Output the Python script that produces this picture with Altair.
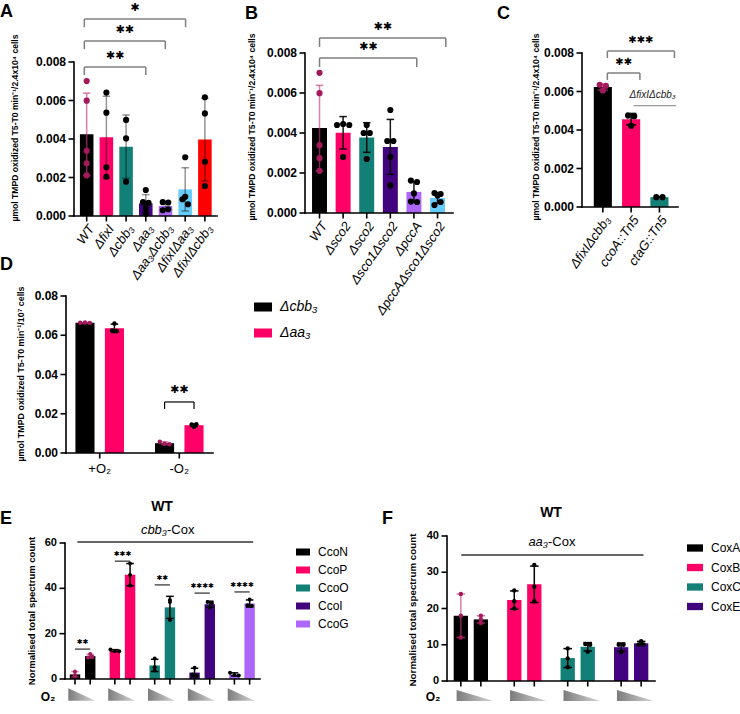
import altair as alt
import pandas as pd

W, H = 740, 714
FONT = "Liberation Sans"
STAR_FONT = "DejaVu Sans"
STAR = "\u2731"

BLACK = "#000000"
PINK = "#ff0066"
TEAL = "#138078"
PURPLE = "#42047e"
LAVENDER = "#ad66fa"
SKY = "#66ccfc"
RED = "#ff0000"
WT_DOT = "#a3195b"
WT_ERR = "rgba(196, 60, 125, 0.65)"
SOFT_ERR = "rgba(0, 0, 0, 0.42)"
BRACKET = "#7f7f7f"

TITLE_ABC = "µmol TMPD oxidized T5-T0 min⁻¹/2.4x10⁴ cells"
TITLE_D = "µmol TMPD oxidized T5-T0 min⁻¹/10⁷ cells"
TITLE_EF = "Normalised total spectrum count"

# ---------- A: oxidase mutants ----------
A_LABELS = ["WT", "ΔfixI", "Δcbb₃", "Δaa₃", "Δaa₃Δcbb₃", "ΔfixIΔaa₃", "ΔfixIΔcbb₃"]
A_COLORS = [BLACK, PINK, TEAL, PURPLE, LAVENDER, SKY, RED]
A_DOTS = [WT_DOT, BLACK, BLACK, BLACK, BLACK, BLACK, BLACK]
A_REPLICATES = [
    [0.00701, 0.00599, 0.00339, 0.00274, 0.00211],
    [0.00641, 0.00537, 0.00253, 0.00204],
    [0.00499, 0.00403, 0.00178],
    [0.00135, 0.00072, 0.00068, 0.00012, 0.00040],
    [0.00072, 0.00070, 0.00030, 0.00035],
    [0.00305, 0.00100, 0.00087, 0.00061],
    [0.00617, 0.00533, 0.00282, 0.00156],
]
A_STARS = [2, 2, 1]

# ---------- B: copper chaperone mutants ----------
B_LABELS = ["WT", "Δsco2", "Δsco2", "Δsco1Δsco2", "ΔpccA", "ΔpccAΔsco1Δsco2"]
B_COLORS = [BLACK, PINK, TEAL, PURPLE, LAVENDER, SKY]
B_DOTS = [WT_DOT, BLACK, BLACK, BLACK, BLACK, BLACK]
B_REPLICATES = [
    [0.00701, 0.00599, 0.00339, 0.00274, 0.00211],
    [0.00440, 0.00445, 0.00440, 0.00280],
    [0.00440, 0.00400, 0.00400, 0.00270],
    [0.00515, 0.00360, 0.00360, 0.00280, 0.00138],
    [0.00162, 0.00155, 0.00098, 0.00057, 0.00055],
    [0.00100, 0.00095, 0.00088, 0.00040, 0.00055],
]
B_STARS = [2, 2]

# ---------- C: transposon mutants ----------
C_LABELS = ["ΔfixIΔcbb₃", "ccoA::Tn5", "ctaG::Tn5"]
C_COLORS = [BLACK, PINK, TEAL]
C_DOTS = [WT_DOT, BLACK, BLACK]
C_REPLICATES = [
    [0.00635, 0.00630, 0.00605],
    [0.00475, 0.00472, 0.00422],
    [0.00051, 0.00051],
]
C_STARS = [2, 3]
C_BACKGROUND = "ΔfixIΔcbb₃"

# ---------- D: oxygen dependence ----------
D_GROUPS = ["+O₂", "-O₂"]
D_STRAINS = ["Δcbb₃", "Δaa₃"]
D_COLORS = [BLACK, PINK]
D_DOTS = [WT_DOT, BLACK]
D_CBB3 = [[0.0664, 0.0665, 0.0663], [0.0058, 0.0047, 0.0045]]
D_AA3 = [[0.0660, 0.0624, 0.0622], [0.0134, 0.0145, 0.0146]]
D_STARS = [2]

# ---------- E: cbb3-Cox subunits, high vs low O2 ----------
E_PROTEINS = ["CcoN", "CcoP", "CcoO", "CcoI", "CcoG"]
E_COLORS = [BLACK, PINK, TEAL, PURPLE, LAVENDER]
E_DOTS = [WT_DOT, BLACK, BLACK, BLACK, BLACK]
E_HIGH_O2 = [[3.3, 1.8, 1.0], [13.0, 12.4, 12.2], [9.0, 5.2, 3.8], [5.0, 2.0, 1.5], [2.8, 1.8, 1.5]]
E_LOW_O2 = [[11.0, 9.5, 9.8], [51.0, 45.9, 41.2], [34.8, 34.0, 26.0], [34.0, 33.5, 31.5], [35.1, 32.5, 32.3]]
E_STARS = [2, 3, 2, 4, 4]

# ---------- F: aa3-Cox subunits, high vs low O2 ----------
F_PROTEINS = ["CoxA", "CoxB", "CoxC", "CoxE"]
F_COLORS = [BLACK, PINK, TEAL, PURPLE]
F_DOTS = [WT_DOT, BLACK, BLACK, BLACK]
F_HIGH_O2 = [[24, 18, 12], [25, 22, 20], [9.0, 6.2, 3.8], [10.0, 10.0, 8.0]]
F_LOW_O2 = [[18, 17, 16], [32, 26, 22], [10.2, 10.0, 8.1], [11.0, 10.1, 10.1]]

AXIS_W = 1.6
TICK_LEN = 5.5
STRAIN_LABEL_SIZE = 13
STRAIN_LABEL_ANGLE = 305


def err_for(dot, soft):
    return WT_ERR if dot == WT_DOT else soft


class Frame:
    """Pixel frame of one panel: x in slot units, y in data units."""

    def __init__(self, x0, x1, c0, step, bottom, top, top_value):
        self.xmin = (x0 - c0) / step
        self.xmax = (x1 - c0) / step
        self.ytop = top_value
        self.xs = alt.Scale(domain=[self.xmin, self.xmax], range=[x0, x1], zero=False, nice=False)
        self.ys = alt.Scale(domain=[0, top_value], range=[bottom, top], zero=False, nice=False)

    def X(self, f):
        return alt.X(f, scale=self.xs, axis=None)

    def Y(self, f):
        return alt.Y(f, scale=self.ys, axis=None)


def y_axis_layers(fr, ticks, fmt, size):
    line = alt.Chart(pd.DataFrame({"x": [fr.xmin], "a": [0], "b": [fr.ytop]})).mark_rule(
        color=BLACK, strokeWidth=AXIS_W, strokeCap="square"
    ).encode(x=fr.X("x:Q"), y=fr.Y("a:Q"), y2="b:Q")
    df = pd.DataFrame({"x": [fr.xmin] * len(ticks), "v": ticks})
    tk = alt.Chart(df).mark_rule(color=BLACK, strokeWidth=AXIS_W, x2Offset=-TICK_LEN).encode(
        x=fr.X("x:Q"), x2="x:Q", y=fr.Y("v:Q"))
    lb = alt.Chart(df).mark_text(
        font=FONT, fontSize=size, fontWeight="bold", align="right", baseline="middle",
        xOffset=-(TICK_LEN + 2.5), color=BLACK,
    ).encode(x=fr.X("x:Q"), y=fr.Y("v:Q"), text=alt.Text("v:Q", format=fmt))
    return [line, tk, lb]


def x_axis_layers(fr, ticks, labels=None, size=STRAIN_LABEL_SIZE, style="italic",
                  angle=STRAIN_LABEL_ANGLE, align="right", y_off=7):
    line = alt.Chart(pd.DataFrame({"a": [fr.xmin], "b": [fr.xmax], "y": [0]})).mark_rule(
        color=BLACK, strokeWidth=AXIS_W, strokeCap="square"
    ).encode(x=fr.X("a:Q"), x2="b:Q", y=fr.Y("y:Q"))
    df = pd.DataFrame({"x": ticks, "y": [0] * len(ticks)})
    tk = alt.Chart(df).mark_rule(color=BLACK, strokeWidth=AXIS_W, y2Offset=TICK_LEN).encode(
        x=fr.X("x:Q"), y=fr.Y("y:Q"), y2="y:Q")
    layers = [line, tk]
    if labels is not None:
        df = df.assign(t=labels)
        layers.append(alt.Chart(df).mark_text(
            font=FONT, fontSize=size, fontStyle=style, angle=angle, align=align,
            baseline="top", yOffset=y_off, color=BLACK,
        ).encode(x=fr.X("x:Q"), y=fr.Y("y:Q"), text="t:N"))
    return layers


def single_frame(reps, bars, dots, soft):
    rows = []
    for i, vals in enumerate(reps):
        for v in vals:
            rows.append(dict(pos=i, bar=bars[i], dot=dots[i], err=err_for(dots[i], soft), v=v))
    return pd.DataFrame(rows)


def grouped_frame(reps, key_of, dot_of, offset):
    rows = []
    for g, subs in enumerate(reps):
        for s, vals in enumerate(subs):
            for v in vals:
                d = dot_of(g, s)
                rows.append(dict(pos=g + (2 * s - 1) * offset, key=key_of(g, s), dot=d,
                                 err=err_for(d, BLACK), v=v))
    return pd.DataFrame(rows)


def bar_layers(df, fr, color, half, cap, spread, tol, dot_size):
    keys = [c for c in df.columns if c != "v"]
    base = alt.Chart(df)
    summary = base.transform_aggregate(
        mean="mean(v)", sd="stdev(v)", groupby=keys
    ).transform_calculate(
        lo="datum.mean - datum.sd", hi="datum.mean + datum.sd",
        b0=f"datum.pos - {half}", b1=f"datum.pos + {half}",
        k0=f"datum.pos - {cap}", k1=f"datum.pos + {cap}",
    )
    err_color = alt.Color("err:N", scale=None)
    bars = summary.mark_bar(orient="vertical").encode(
        x=fr.X("b0:Q"), x2="b1:Q", y=fr.Y("mean:Q"), y2=alt.datum(0), color=color)
    whisker = summary.mark_rule(strokeWidth=1.5).encode(
        x=fr.X("pos:Q"), y=fr.Y("lo:Q"), y2="hi:Q", color=err_color)
    caps = [summary.mark_rule(strokeWidth=1.5).encode(
        x=fr.X("k0:Q"), x2="k1:Q", y=fr.Y(f"{end}:Q"), color=err_color) for end in ("lo", "hi")]
    dots = base.transform_calculate(
        vb=f"floor(datum.v / {tol})"
    ).transform_window(
        rk="row_number()", n="count()", groupby=["pos", "vb"], frame=[None, None]
    ).transform_calculate(
        px=f"datum.pos + (datum.rk - (datum.n + 1) / 2) * {spread}"
    ).mark_circle(size=dot_size, opacity=1).encode(
        x=fr.X("px:Q"), y=fr.Y("v:Q"), color=alt.Color("dot:N", scale=None))
    return [bars, whisker, *caps, dots]


def bracket_layers(rows, fr, arm, line_color, star_size, star_dy, width=1.5):
    df = pd.DataFrame(rows, columns=["x0", "x1", "lvl", "n"])
    df["stars"] = [STAR * int(n) for n in df["n"]]
    base = alt.Chart(df).transform_calculate(
        mid="(datum.x0 + datum.x1) / 2", low=f"datum.lvl - {arm}")
    rule = dict(color=line_color, strokeWidth=width)
    layers = [base.mark_rule(**rule).encode(x=fr.X("x0:Q"), x2="x1:Q", y=fr.Y("lvl:Q"))]
    if arm:
        for end in ("x0", "x1"):
            layers.append(base.mark_rule(**rule).encode(
                x=fr.X(f"{end}:Q"), y=fr.Y("lvl:Q"), y2="low:Q"))
    layers.append(base.mark_text(font=STAR_FONT, fontSize=star_size, dy=star_dy, color=BLACK).encode(
        x=fr.X("mid:Q"), y=fr.Y("lvl:Q"), text="stars:N"))
    return layers


def span_line(x0, x1, y, fr, color="#333333", width=1.5):
    df = pd.DataFrame({"x0": [x0], "x1": [x1], "y": [y]})
    return alt.Chart(df).mark_rule(color=color, strokeWidth=width).encode(
        x=fr.X("x0:Q"), x2="x1:Q", y=fr.Y("y:Q"))


def note(text, x, y, size, weight="normal", style="normal", align="left", angle=0,
         font=FONT, color=BLACK):
    return alt.Chart(pd.DataFrame({"t": [text]})).mark_text(
        font=font, fontSize=size, fontWeight=weight, fontStyle=style, align=align,
        baseline="middle", color=color, angle=angle,
    ).encode(x=alt.value(x), y=alt.value(y), text="t:N")


def o2_wedges(n, fr, shift, y_px, path, size):
    df = pd.DataFrame({"g": list(range(n))})
    grad = alt.LinearGradient(
        gradient="linear", x1=0, x2=1, y1=0, y2=0,
        stops=[alt.GradientStop(color="#7c7c7c", offset=0),
               alt.GradientStop(color="#d6d6d6", offset=1)])
    return alt.Chart(df).transform_calculate(gx=f"datum.g + {shift}").mark_point(
        shape=path, size=size, filled=True, fill=grad, strokeWidth=0, opacity=1
    ).encode(x=fr.X("gx:Q"), y=alt.value(y_px))


def legend(x, y, sym_w, sym_h, size, style="normal", row_pad=5):
    h = sym_h / sym_w
    return alt.Legend(
        orient="none", legendX=x, legendY=y, title=None, padding=0,
        symbolType=f"M-1,-{h}L1,-{h}L1,{h}L-1,{h}Z", symbolSize=sym_w ** 2,
        symbolStrokeWidth=0, symbolOpacity=1, labelFont=FONT, labelFontSize=size,
        labelFontStyle=style, labelColor=BLACK, labelOffset=8, rowPadding=row_pad)


TICKS_ABC = [0, 0.002, 0.004, 0.006, 0.008]

# ---------------- panel A ----------------
FA = Frame(69, 222, 82.57, 21.08, 216, 62, 0.008)
panel_a = alt.layer(
    *bar_layers(single_frame(A_REPLICATES, A_COLORS, A_DOTS, SOFT_ERR), FA,
                alt.Color("bar:N", scale=None), 0.344, 0.19, 0.28, 0.0003, 38),
    *bracket_layers([(-0.12, 3.0, 0.00774, A_STARS[0]),
                     (-0.12, 3.99, 0.00909, A_STARS[1]),
                     (-0.12, 5.02, 0.01023, A_STARS[2])],
                    FA, 0.00042, BRACKET, 11, -11),
    *y_axis_layers(FA, TICKS_ABC, ".3f", 12),
    *x_axis_layers(FA, list(range(len(A_LABELS))), A_LABELS),
)

# ---------------- panel B ----------------
FB = Frame(300, 458, 315.5, 25.2, 213, 53, 0.008)
panel_b = alt.layer(
    *bar_layers(single_frame(B_REPLICATES, B_COLORS, B_DOTS, "rgba(0,0,0,0.9)"), FB,
                alt.Color("bar:N", scale=None), 0.317, 0.16, 0.26, 0.0003, 38),
    *bracket_layers([(0.0, 4.12, 0.00775, B_STARS[0]),
                     (0.0, 5.35, 0.00875, B_STARS[1])],
                    FB, 0.00045, BRACKET, 11, -11),
    *y_axis_layers(FB, TICKS_ABC, ".3f", 12),
    *x_axis_layers(FB, list(range(len(B_LABELS))), B_LABELS),
)

# ---------------- panel C ----------------
FC = Frame(577, 683, 600, 31.25, 207, 53, 0.008)
c_bg = pd.DataFrame({"x": [1.76], "y": [0.00582], "t": [C_BACKGROUND]})
panel_c = alt.layer(
    *bar_layers(single_frame(C_REPLICATES, C_COLORS, C_DOTS, BLACK), FC,
                alt.Color("bar:N", scale=None), 0.32, 0.18, 0.22, 0.0003, 38),
    *bracket_layers([(0.16, 1.31, 0.00696, C_STARS[0]),
                     (0.16, 2.53, 0.0081, C_STARS[1])],
                    FC, 0.00036, BRACKET, 10, -11),
    span_line(1.09, 2.59, 0.00526, FC, color=BRACKET, width=1.2),
    alt.Chart(c_bg).mark_text(font=FONT, fontSize=10, fontStyle="italic", color="#222222").encode(
        x=FC.X("x:Q"), y=FC.Y("y:Q"), text="t:N"),
    *y_axis_layers(FC, TICKS_ABC, ".3f", 12),
    *x_axis_layers(FC, list(range(len(C_LABELS))), C_LABELS),
)

# ---------------- panel D ----------------
FD = Frame(61, 218, 97, 85, 453, 296, 0.08)
d_frame = grouped_frame([[D_CBB3[g], D_AA3[g]] for g in range(len(D_GROUPS))],
                        lambda g, s: D_STRAINS[s], lambda g, s: D_DOTS[s], 0.185)
panel_d = alt.layer(
    *bar_layers(d_frame, FD,
                alt.Color("key:N", scale=alt.Scale(domain=D_STRAINS, range=D_COLORS),
                          legend=legend(254, 298, 18, 9, 14, "italic", 10)),
                0.12, 0.047, 0.06, 0.002, 20),
    *bracket_layers([(0.815, 1.185, 0.026, D_STARS[0])], FD, 0.0036, BLACK, 11, -12, 1.2),
    *y_axis_layers(FD, [0, 0.02, 0.04, 0.06, 0.08], ".2f", 12),
    *x_axis_layers(FD, [0, 1], D_GROUPS, size=13, style="normal", angle=0,
                   align="center", y_off=10),
)

# ---------------- panel E ----------------
E_OFF = 0.191
FE = Frame(60, 265, 78.5, 41.9, 679, 543, 60)
e_frame = grouped_frame([[E_HIGH_O2[g], E_LOW_O2[g]] for g in range(len(E_PROTEINS))],
                        lambda g, s: E_PROTEINS[g], lambda g, s: E_DOTS[g], E_OFF)
e_ticks = [g + d for g in range(len(E_PROTEINS)) for d in (-E_OFF, E_OFF)]
e_sig_levels = [13.2, 52.0, 41.5, 37.9, 38.4]
panel_e = alt.layer(
    *bar_layers(e_frame, FE,
                alt.Color("key:N", scale=alt.Scale(domain=E_PROTEINS, range=E_COLORS),
                          legend=legend(296, 545, 14, 7, 12, "normal", 5)),
                0.131, 0.095, 0.11, 1.5, 16),
    *bracket_layers([(g - E_OFF, g + E_OFF, e_sig_levels[g], E_STARS[g]) for g in range(len(E_PROTEINS))],
                    FE, 0, BLACK, 7, -7, 1.0),
    span_line(-0.131, 4.28, 60.44, FE),
    o2_wedges(len(E_PROTEINS), FE, -0.02, 694.5, "M-1,-0.46L1,0.46L-1,0.46Z", 729),
    *y_axis_layers(FE, [0, 20, 40, 60], "d", 11),
    *x_axis_layers(FE, e_ticks),
)

# ---------------- panel F ----------------
F_OFF = 0.1875
FF = Frame(442, 660, 467, 56, 681, 536, 40)
f_frame = grouped_frame([[F_HIGH_O2[g], F_LOW_O2[g]] for g in range(len(F_PROTEINS))],
                        lambda g, s: F_PROTEINS[g], lambda g, s: F_DOTS[g], F_OFF)
f_ticks = [g + d for g in range(len(F_PROTEINS)) for d in (-F_OFF, F_OFF)]
panel_f = alt.layer(
    *bar_layers(f_frame, FF,
                alt.Color("key:N", scale=alt.Scale(domain=F_PROTEINS, range=F_COLORS),
                          legend=legend(687, 540, 16, 7.3, 12, "normal", 5.5)),
                0.134, 0.08, 0.09, 1.2, 20),
    span_line(-0.179, 3.232, 34.76, FF),
    o2_wedges(len(F_PROTEINS), FF, 0.08, 695.5, "M-1,-0.3L1,0.3L-1,0.3Z", 1369),
    *y_axis_layers(FF, [0, 10, 20, 30, 40], "d", 11),
    *x_axis_layers(FF, f_ticks),
)

notes = [
    note("A", 0, 12, 18, "bold"),
    note("B", 245, 13.5, 18, "bold"),
    note("C", 497, 14, 18, "bold"),
    note("D", 0, 265, 18, "bold"),
    note("E", 0, 518.5, 18, "bold"),
    note("F", 382, 518.5, 18, "bold"),
    note(TITLE_ABC, 15, 128, 8.6, "bold", align="center", angle=270),
    note(TITLE_ABC, 252, 127, 8.6, "bold", align="center", angle=270),
    note(TITLE_ABC, 536, 127, 8.6, "bold", align="center", angle=270),
    note(TITLE_D, 21, 374, 8.9, "bold", align="center", angle=270),
    note(TITLE_EF, 32, 611, 9.5, "bold", align="center", angle=270),
    note(TITLE_EF, 413, 610, 9.8, "bold", align="center", angle=270),
    note("WT", 162, 507, 14, "bold", align="center"),
    note("WT", 551, 513, 14, "bold", align="center"),
    note("cbb₃", 167, 530, 13, style="italic", align="right"),
    note("-Cox", 167, 530, 13, align="left"),
    note("aa₃", 548, 542, 13, style="italic", align="right"),
    note("-Cox", 548, 542, 13, align="left"),
    note("O₂", 48, 697, 12, "bold", align="center"),
    note("O₂", 433, 697, 12, "bold", align="center"),
]

chart = alt.layer(
    panel_a, panel_b, panel_c, panel_d, panel_e, panel_f, *notes
).resolve_scale(
    x="independent", y="independent", color="independent"
).properties(
    width=W, height=H, padding=0, autosize=alt.AutoSizeParams(type="none"),
).configure_view(stroke=None)

chart.save("out.html", embed_options={"renderer": "svg", "actions": False})
